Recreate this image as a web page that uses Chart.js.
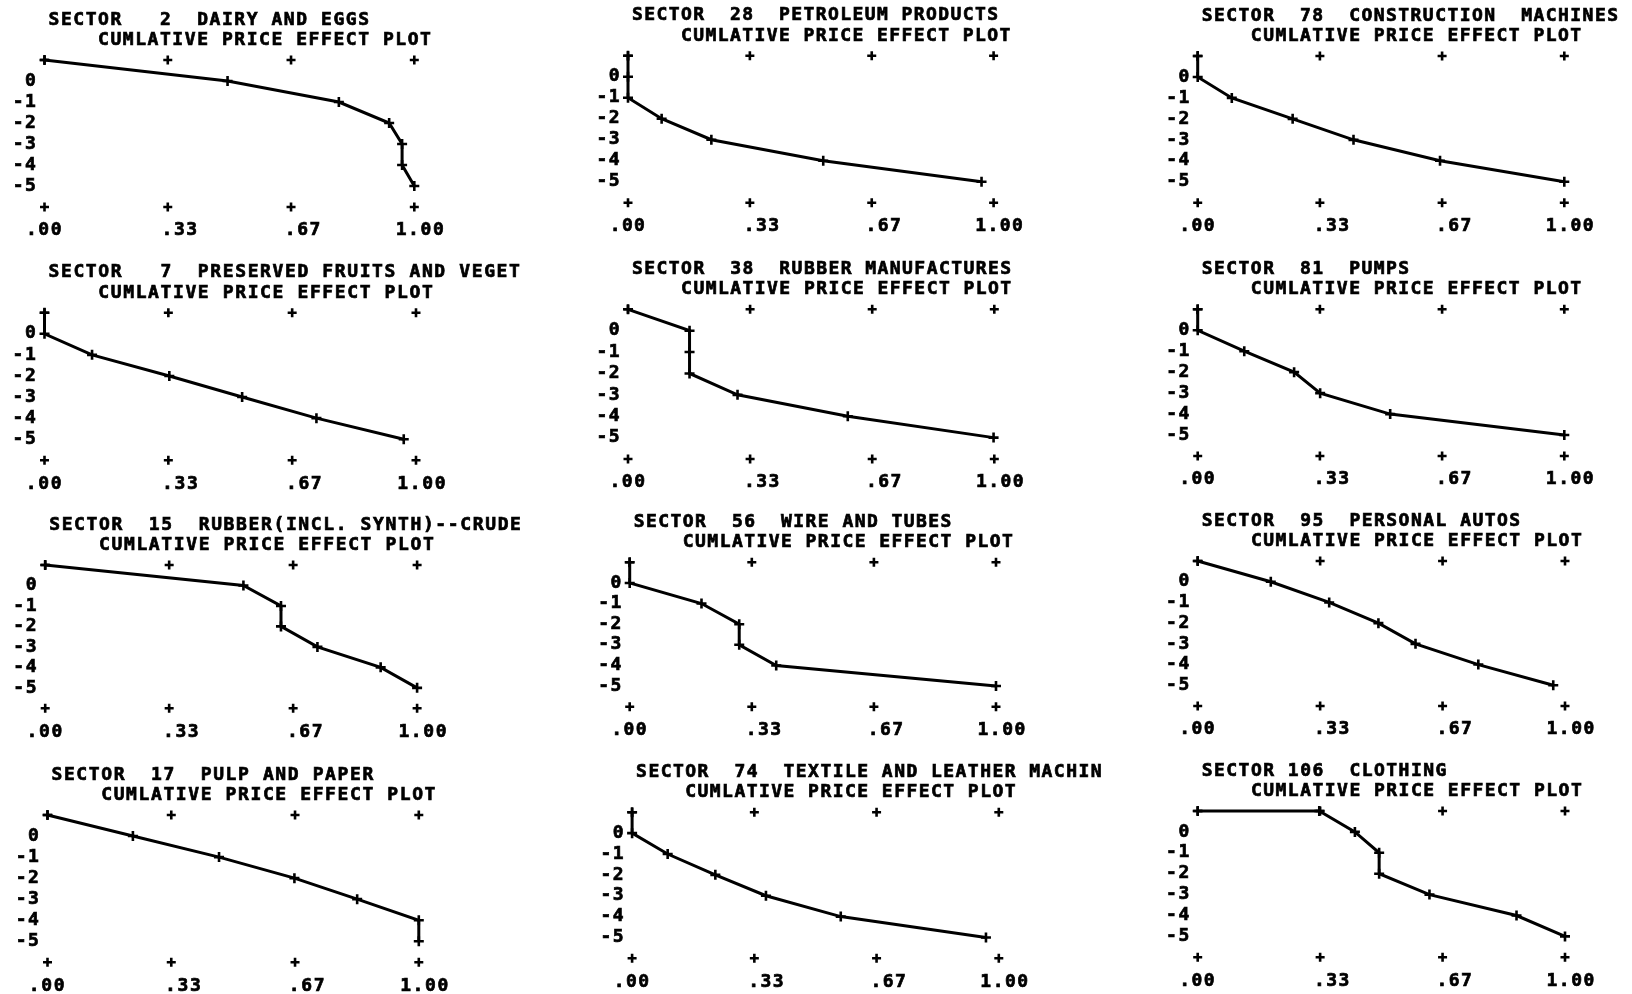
<!DOCTYPE html>
<html><head><meta charset="utf-8">
<script src="https://cdn.jsdelivr.net/npm/chart.js@4.4.1/dist/chart.umd.min.js"></script>
<style>
html,body{margin:0;padding:0;background:#fff;width:1632px;height:994px;overflow:hidden;position:relative;}
canvas{position:absolute;}
</style></head><body>
<script>
// ---------------- data ----------------
const X_TICK_VALUES = [0, 1/3, 2/3, 1];
const X_TICK_LABELS = ['.00', '.33', '.67', '1.00'];
const Y_TICK_VALUES = [0, -1, -2, -3, -4, -5];
const Y_TICK_LABELS = ['0', '-1', '-2', '-3', '-4', '-5'];
const Y_MIN = -6;
const Y_MAX = 1;
const SUBTITLE = 'CUMLATIVE PRICE EFFECT PLOT';

const SECTOR_NUMBERS = [2, 28, 78, 7, 38, 81, 15, 56, 95, 17, 74, 106];
const SECTOR_NAMES = [
  'DAIRY AND EGGS', 'PETROLEUM PRODUCTS', 'CONSTRUCTION  MACHINES',
  'PRESERVED FRUITS AND VEGET', 'RUBBER MANUFACTURES', 'PUMPS',
  'RUBBER(INCL. SYNTH)--CRUDE', 'WIRE AND TUBES', 'PERSONAL AUTOS',
  'PULP AND PAPER', 'TEXTILE AND LEATHER MACHIN', 'CLOTHING'
];

const S2_X   = [0, 0.495, 0.796, 0.932, 0.967, 0.967, 1.0];
const S2_Y   = [1, 0, -1, -2, -3, -4, -5];
const S28_X  = [0, 0, 0, 0.092, 0.228, 0.534, 0.967];
const S28_Y  = [1, 0, -1, -2, -3, -4, -5];
const S78_X  = [0, 0, 0.093, 0.259, 0.425, 0.661, 1.0];
const S78_Y  = [1, 0, -1, -2, -3, -4, -5];
const S7_X   = [0, 0, 0.128, 0.336, 0.532, 0.732, 0.967];
const S7_Y   = [1, 0, -1, -2, -3, -4, -5];
const S38_X  = [0, 0.168, 0.168, 0.168, 0.299, 0.600, 0.998];
const S38_Y  = [1, 0, -1, -2, -3, -4, -5];
const S81_X  = [0, 0, 0.127, 0.263, 0.334, 0.525, 1.0];
const S81_Y  = [1, 0, -1, -2, -3, -4, -5];
const S15_X  = [0, 0.533, 0.634, 0.634, 0.732, 0.902, 1.0];
const S15_Y  = [1, 0, -1, -2, -3, -4, -5];
const S56_X  = [0, 0, 0.196, 0.299, 0.299, 0.400, 1.0];
const S56_Y  = [1, 0, -1, -2, -3, -4, -5];
const S95_X  = [0, 0.199, 0.358, 0.492, 0.593, 0.764, 0.968];
const S95_Y  = [1, 0, -1, -2, -3, -4, -5];
const S17_X  = [0, 0.230, 0.462, 0.665, 0.834, 1.0, 1.0];
const S17_Y  = [1, 0, -1, -2, -3, -4, -5];
const S74_X  = [0, 0, 0.097, 0.227, 0.365, 0.569, 0.965];
const S74_Y  = [1, 0, -1, -2, -3, -4, -5];
const S106_X = [0, 0.331, 0.428, 0.494, 0.494, 0.631, 0.868, 1.0];
const S106_Y = [1, 1, 0, -1, -2, -3, -4, -5];

const SERIES_X = [S2_X, S28_X, S78_X, S7_X, S38_X, S81_X, S15_X, S56_X, S95_X, S17_X, S74_X, S106_X];
const SERIES_Y = [S2_Y, S28_Y, S78_Y, S7_Y, S38_Y, S81_Y, S15_Y, S56_Y, S95_Y, S17_Y, S74_Y, S106_Y];

// ---------------- layout (page pixels of x=0, x=1, y=top, y=bottom) ----------------
const PANEL_FRAMES = [
  [44.5, 414.3, 60.0, 207.0], [628.0, 993.6, 55.7, 202.7], [1197.7, 1564.3, 56.0, 202.7],
  [44.5, 416.0, 312.7, 460.3], [628.0, 994.3, 309.3, 459.0], [1197.7, 1564.3, 309.3, 456.0],
  [45.2, 417.1, 565.0, 708.3], [629.7, 996.0, 562.3, 706.7], [1197.7, 1565.0, 561.0, 706.0],
  [47.5, 418.8, 815.0, 962.3], [632.1, 998.8, 812.3, 958.3], [1197.7, 1565.0, 811.0, 957.3]
];
const X_LABEL_NUDGE = [0, 2, 2, 1]; // leading spaces (printer column offset of labels)
const FONT_FAMILY = '"DejaVu Sans Mono", "Liberation Mono", monospace';
const FONT_SIZE = 18;
const AXIS_W = 50, AXIS_H = 40, TOP_PAD = 60;

function makePanel(i) {
  const [x0, x1, yT, yB] = PANEL_FRAMES[i];
  const pitch = (x1 - x0) / 29.85;
  const spacing = pitch - 0.602 * FONT_SIZE;
  const rightPad = Math.min(115, 1630 - x1);
  const left = Math.floor(x0 - AXIS_W);
  const top = Math.floor(yT - TOP_PAD);
  const padL = (x0 - AXIS_W) - left;
  const padT = (yT - TOP_PAD) - top + TOP_PAD;
  const w = Math.ceil(padL + AXIS_W + (x1 - x0) + rightPad);
  const h = Math.ceil(padT + (yB - yT) + AXIS_H);
  const padR = w - (padL + AXIS_W + (x1 - x0));
  const padB = h - (padT + (yB - yT) + AXIS_H);

  const cv = document.createElement('canvas');
  cv.width = w; cv.height = h;
  cv.style.left = left + 'px'; cv.style.top = top + 'px';
  cv.style.width = w + 'px'; cv.style.height = h + 'px';
  document.body.appendChild(cv);

  const pts = SERIES_X[i].map((x, k) => ({ x: x, y: SERIES_Y[i][k] }));
  const marks = [];
  X_TICK_VALUES.forEach(v => { marks.push({ x: v, y: Y_MAX }); marks.push({ x: v, y: Y_MIN }); });

  const title = 'SECTOR' + String(SECTOR_NUMBERS[i]).padStart(4, ' ') + '  ' + SECTOR_NAMES[i];
  const subtitle = '    ' + SUBTITLE;
  const font = { family: FONT_FAMILY, size: FONT_SIZE, weight: 'bold' };

  const textPlugin = {
    id: 'sectorText',
    beforeDraw(chart) { chart.ctx.letterSpacing = spacing.toFixed(2) + 'px'; },
    afterDraw(chart) {
      const ctx = chart.ctx, a = chart.chartArea;
      ctx.save();
      ctx.letterSpacing = spacing.toFixed(2) + 'px';
      ctx.font = 'bold ' + FONT_SIZE + 'px ' + FONT_FAMILY;
      ctx.fillStyle = '#000';
      ctx.strokeStyle = '#000';
      ctx.lineWidth = 0.7;
      ctx.textAlign = 'left';
      ctx.textBaseline = 'alphabetic';
      ctx.fillText(title, a.left + 4, a.top - 35.5);
      ctx.strokeText(title, a.left + 4, a.top - 35.5);
      ctx.fillText(subtitle, a.left + 4, a.top - 15);
      ctx.strokeText(subtitle, a.left + 4, a.top - 15);
      ctx.restore();
    }
  };

  new Chart(cv, {
    type: 'scatter',
    data: {
      datasets: [
        { data: pts, showLine: true, borderColor: '#000', borderWidth: 3, tension: 0,
          pointStyle: 'cross', pointRadius: 5, pointBorderWidth: 2.6,
          pointBorderColor: '#000', pointBackgroundColor: '#000', clip: false },
        { data: marks, showLine: false, pointStyle: 'cross', pointRadius: 4.5,
          pointBorderWidth: 2.6, pointBorderColor: '#000', borderColor: '#000', clip: false }
      ]
    },
    options: {
      responsive: false, animation: false, events: [],
      devicePixelRatio: 1,
      layout: { padding: { left: padL, top: padT, right: padR, bottom: padB } },
      plugins: { legend: { display: false }, tooltip: { enabled: false }, title: { display: false } },
      scales: {
        x: {
          type: 'linear', min: 0, max: 1,
          grid: { display: false, drawTicks: false }, border: { display: false },
          afterBuildTicks: s => { s.ticks = X_TICK_VALUES.map(v => ({ value: v })); },
          afterFit: s => { s.height = AXIS_H; },
          ticks: {
            autoSkip: false, maxRotation: 0, minRotation: 0, padding: 13, color: '#000', font: font,
            textStrokeColor: '#000', textStrokeWidth: 0.7,
            callback: (v, idx) => ' '.repeat(X_LABEL_NUDGE[idx]) + X_TICK_LABELS[idx]
          }
        },
        y: {
          type: 'linear', min: Y_MIN, max: Y_MAX,
          grid: { display: false, drawTicks: false }, border: { display: false },
          afterBuildTicks: s => { s.ticks = Y_TICK_VALUES.map(v => ({ value: v })); },
          afterFit: s => { s.width = AXIS_W; },
          ticks: {
            autoSkip: false, padding: 7, color: '#000', font: font,
            textStrokeColor: '#000', textStrokeWidth: 0.7,
            callback: (v, idx) => Y_TICK_LABELS[idx]
          }
        }
      }
    },
    plugins: [textPlugin]
  });
}

for (let i = 0; i < PANEL_FRAMES.length; i++) makePanel(i);
</script>
</body></html>
